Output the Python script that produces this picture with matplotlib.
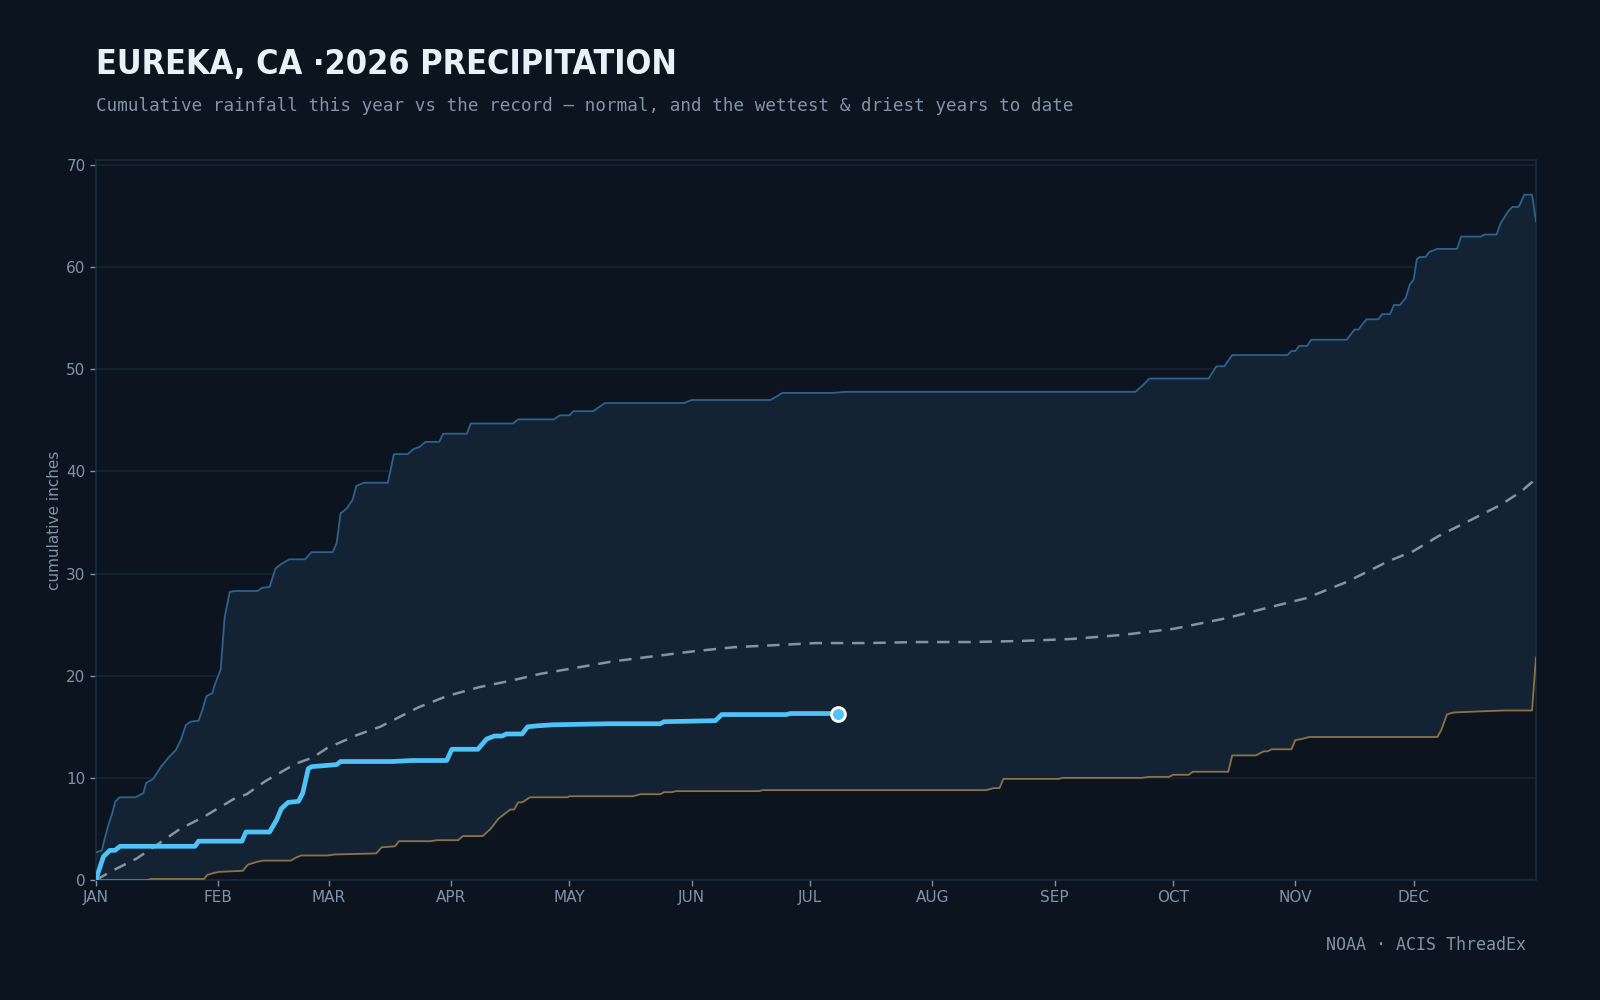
import numpy as np
import matplotlib
matplotlib.use("Agg")
import matplotlib.pyplot as plt

# day-of-year (0 = Jan 1) and cumulative inches
wet_day = [0, 1.5, 2.3, 3.4, 4.1, 4.9, 6, 10, 12, 12.7, 14.5, 16.5, 18.4, 20.2, 21.5,
           22.8, 24, 26, 27, 28, 29.5, 30, 31.6, 32.6, 33.9, 35, 41, 42, 44, 45.5,
           46.8, 49, 53, 54.6, 60, 61, 62, 63.6, 65, 66, 68, 74, 75.5, 79, 80.5,
           82, 83.5, 87, 88, 94, 95, 105.7, 107, 116, 117.6, 120, 121, 126, 129,
           149, 151, 171, 174, 187, 190, 263.5, 265.5, 267, 282, 284, 286, 288,
           302, 303, 304, 305, 307, 308, 317, 319, 320, 322, 325, 326, 328, 329,
           330.5, 332, 333, 334, 334.8, 335.5, 337, 338, 340, 345, 346, 351, 352,
           355, 356, 356.5, 358, 359, 360.5, 361, 362, 364, 365]
wet_in = [2.7, 2.9, 4.2, 5.7, 6.5, 7.7, 8.1, 8.1, 8.5, 9.5, 9.9, 11.1, 12.0, 12.7, 13.7,
          15.2, 15.5, 15.6, 16.7, 18.0, 18.3, 19.0, 20.6, 25.7, 28.2, 28.3, 28.3, 28.6, 28.7, 30.5,
          30.9, 31.4, 31.4, 32.1, 32.1, 33.0, 35.9, 36.4, 37.2, 38.6, 38.9, 38.9, 41.7, 41.7, 42.2,
          42.4, 42.9, 42.9, 43.7, 43.7, 44.7, 44.7, 45.1, 45.1, 45.5, 45.5, 45.9, 45.9, 46.7,
          46.7, 47.0, 47.0, 47.7, 47.7, 47.8, 47.8, 48.5, 49.1, 49.1, 50.3, 50.3, 51.4,
          51.4, 51.8, 51.8, 52.3, 52.3, 52.9, 52.9, 53.9, 53.9, 54.9, 54.9, 55.4, 55.4, 56.3,
          56.3, 57.0, 58.3, 58.8, 60.8, 61.0, 61.0, 61.5, 61.8, 61.8, 63.0, 63.0, 63.2,
          63.2, 64.3, 64.6, 65.5, 65.9, 65.9, 66.2, 67.1, 67.1, 64.5]

dry_day = [0, 13, 14, 27.4, 28.2, 30, 31.3, 37.2, 38.5, 41, 42.4, 49.4, 50.7, 52, 58.5,
           60.5, 71, 72.4, 75.8, 76.8, 84.8, 86.4, 91.8, 93, 98, 100, 102, 105, 106,
           107, 108, 110, 119.5, 120, 136, 138, 143, 144, 146, 147, 168, 169, 225.6,
           227.6, 229, 230, 244, 245, 265, 267, 272, 273, 277, 278, 287, 288, 294,
           295, 296, 297, 298, 303, 304, 305.5, 307.5, 340, 341, 342.4, 344, 350,
           357, 364, 365]
dry_in = [0, 0, 0.1, 0.1, 0.5, 0.7, 0.8, 0.9, 1.5, 1.8, 1.9, 1.9, 2.2, 2.4, 2.4,
          2.5, 2.6, 3.2, 3.3, 3.8, 3.8, 3.9, 3.9, 4.3, 4.3, 5.0, 6.0, 6.9, 6.9,
          7.6, 7.6, 8.1, 8.1, 8.2, 8.2, 8.4, 8.4, 8.6, 8.6, 8.7, 8.7, 8.8, 8.8,
          9.0, 9.0, 9.9, 9.9, 10.0, 10.0, 10.1, 10.1, 10.3, 10.3, 10.6, 10.6, 12.2, 12.2,
          12.4, 12.6, 12.6, 12.8, 12.8, 13.7, 13.8, 14.0, 14.0, 14.7, 16.2, 16.4, 16.5,
          16.6, 16.6, 21.8]

norm_day = [0, 4.1, 10.3, 14.5, 21.3, 27.4, 35.2, 38.2, 43, 50.7, 55, 58.5, 66.2, 72,
            81.7, 88.9, 97.3, 105, 112.8, 120.5, 130.9, 141.2, 151.6, 161.9, 172.3,
            182.6, 195.6, 208.5, 221.4, 234.3, 247.3, 260.2, 273.2, 286.1, 296.4,
            306.8, 317.1, 327.5, 333.9, 340.4, 348.2, 355.9, 361.1, 365]
norm_in = [0, 0.9, 2.1, 3.2, 5.0, 6.2, 8.0, 8.4, 9.7, 11.4, 12.0, 12.9, 14.2, 15.0,
           16.9, 18.0, 18.9, 19.5, 20.2, 20.7, 21.4, 21.9, 22.4, 22.8, 23.0,
           23.2, 23.2, 23.3, 23.3, 23.4, 23.6, 24.0, 24.6, 25.6, 26.6,
           27.6, 29.2, 31.2, 32.2, 33.7, 35.2, 36.7, 38.0, 39.3]

this_day = [0, 0.2, 1.9, 3.5, 4.8, 6.1, 25.1, 26, 37, 38, 44, 45.8, 47, 48.7, 51.3,
            52.4, 53.8, 54.7, 61, 62, 75, 80, 88.9, 90.2, 96.8, 99, 101, 103, 104,
            108, 109.4, 112, 116, 130, 143, 144, 157, 158.6, 175, 176, 188]
this_in = [0, 0.3, 2.3, 2.9, 2.9, 3.3, 3.3, 3.8, 3.8, 4.7, 4.7, 5.9, 7.0, 7.6, 7.7,
           8.5, 10.9, 11.1, 11.3, 11.6, 11.6, 11.7, 11.7, 12.8, 12.8, 13.8, 14.1, 14.1, 14.3,
           14.3, 15.0, 15.1, 15.2, 15.3, 15.3, 15.5, 15.6, 16.2, 16.2, 16.3, 16.3]

month_start = [0, 31, 59, 90, 120, 151, 181, 212, 243, 273, 304, 334]
month_names = ["JAN", "FEB", "MAR", "APR", "MAY", "JUN",
               "JUL", "AUG", "SEP", "OCT", "NOV", "DEC"]
y_ticks = [0, 10, 20, 30, 40, 50, 60, 70]

BG = "#0c151f"
FILL = "#132333"
GRID = "#152434"
SPINE = "#1a2b3c"
MUTED = "#8193a8"

fig = plt.figure(figsize=(16, 10), dpi=100, facecolor=BG)
ax = fig.add_axes([0.06, 0.12, 0.90, 0.72], facecolor=BG)

# band between driest and wettest
ax.fill(np.r_[wet_day, dry_day[::-1]], np.r_[wet_in, dry_in[::-1]],
        color=FILL, lw=0, zorder=1)
ax.plot(wet_day, wet_in, color="#2d628c", lw=1.3, zorder=3)
ax.plot(dry_day, dry_in, color="#8c7346", lw=1.3, zorder=3)
ax.plot(norm_day, norm_in, color="#8593a2", lw=1.8, ls=(0, (5, 3.5)), zorder=4)
ax.plot(this_day, this_in, color="#4fc3f7", lw=3.4, zorder=5,
        solid_joinstyle="round", solid_capstyle="round")
ax.plot(this_day[-1], this_in[-1], "o", ms=10, color="#4fc3f7",
        mec="white", mew=2, zorder=6)

ax.set_xlim(0, 365)
ax.set_ylim(0, 70.5)
ax.set_xticks(month_start)
ax.set_xticklabels(month_names)
ax.set_yticks(y_ticks)
ax.grid(axis="y", color=GRID, lw=1.2, zorder=0)
ax.set_axisbelow(True)
ax.tick_params(colors=MUTED, labelsize=11, length=4, width=1, pad=3.5)
for s in ax.spines.values():
    s.set_color(SPINE)
    s.set_linewidth(1.2)
ax.set_ylabel("cumulative inches", color=MUTED, fontsize=11, labelpad=3)

fig.text(0.06, 0.926, "EUREKA, CA ·2026 PRECIPITATION", color="#e8f0f8",
         fontsize=24.5, fontweight="bold", fontstretch="condensed",
         family=["DejaVu Sans"], ha="left", va="baseline")
fig.text(0.06, 0.894, "Cumulative rainfall this year vs the record — normal, "
         "and the wettest & driest years to date", color=MUTED,
         fontsize=12.7, family=["DejaVu Sans Mono"], ha="left", va="center")
fig.text(0.954, 0.055, "NOAA · ACIS ThreadEx", color=MUTED, fontsize=12,
         family=["DejaVu Sans Mono"], ha="right", va="center")

fig.savefig("out.png", dpi=100, facecolor=BG)
